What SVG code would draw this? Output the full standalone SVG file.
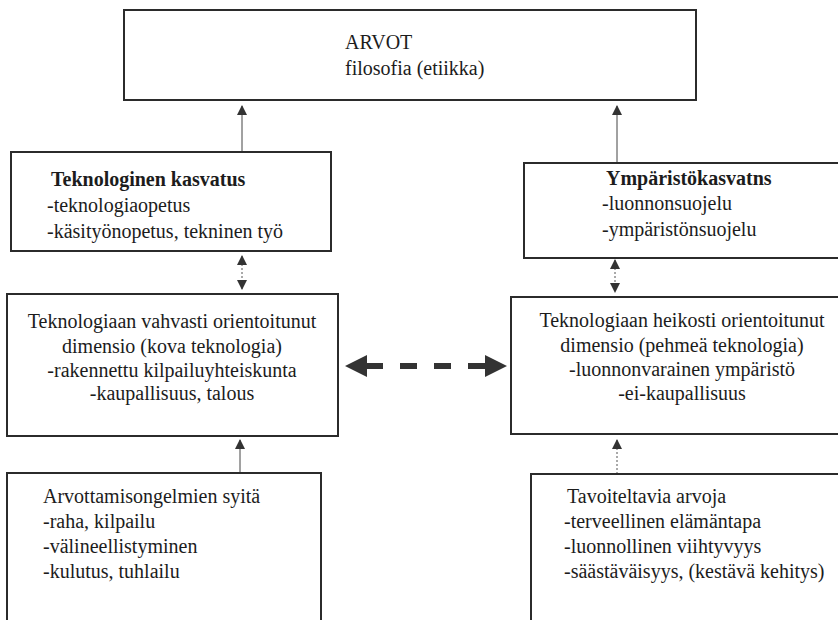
<svg xmlns="http://www.w3.org/2000/svg" width="838" height="620" viewBox="0 0 838 620">
  <style>
    .box { fill: #ffffff; stroke: #2b2b2b; stroke-width: 2; }
    text { font-family: 'Liberation Serif', Tinos, 'Times New Roman', 'DejaVu Serif', serif; font-size: 20px; fill: #1c1c1c; }
    .b { font-weight: bold; }
    .mid { text-anchor: middle; }
    .thin { stroke: #444; stroke-width: 1; fill: none; }
    .dot { stroke: #555; stroke-width: 1; fill: none; stroke-dasharray: 2 2; }
    .big { fill: #333; }
  </style>
  <defs>
    <marker id="head" viewBox="0 0 10 10" refX="9" refY="5" markerWidth="10" markerHeight="10" markerUnits="userSpaceOnUse" orient="auto-start-reverse">
      <path d="M0,0 L10,5 L0,10 Z" fill="#333"/>
    </marker>
  </defs>

  <rect width="838" height="620" fill="#ffffff"/>

  <!-- connectors -->
  <g id="connectors">
    <line class="thin" x1="242" y1="152" x2="242" y2="106" marker-end="url(#head)"/>
    <line class="thin" x1="617" y1="163" x2="617" y2="106" marker-end="url(#head)"/>
    <line class="dot" x1="242" y1="256" x2="242" y2="289" marker-start="url(#head)" marker-end="url(#head)"/>
    <line class="dot" x1="615" y1="260" x2="615" y2="292" marker-start="url(#head)" marker-end="url(#head)"/>
    <line class="thin" x1="240" y1="473" x2="240" y2="440" marker-end="url(#head)"/>
    <line class="dot" x1="617" y1="474" x2="617" y2="440" marker-end="url(#head)"/>
    <!-- dashed double-headed link between the two dimensions -->
    <path class="big" d="M345,366 L367,355 L367,363 L383,363 L383,369 L367,369 L367,377 Z"/>
    <rect class="big" x="400" y="363" width="17" height="6"/>
    <rect class="big" x="434" y="363" width="17" height="6"/>
    <path class="big" d="M507,366 L485,355 L485,363 L468,363 L468,369 L485,369 L485,377 Z"/>
  </g>

  <g id="arvot" font-family="Liberation Serif, serif">
    <rect class="box" x="124" y="10" width="572" height="90"/>
    <text x="345" y="49">ARVOT</text>
    <text x="345" y="75">filosofia (etiikka)</text>
  </g>

  <g id="teknologinen-kasvatus">
    <rect class="box" x="11" y="152" width="320" height="99"/>
    <text class="b" x="51" y="186">Teknologinen kasvatus</text>
    <text x="47" y="212">-teknologiaopetus</text>
    <text x="47" y="238">-käsityönopetus, tekninen työ</text>
  </g>

  <g id="ymparistokasvatus">
    <rect class="box" x="524" y="163" width="330" height="95"/>
    <text class="b" x="606" y="185">Ympäristökasvatns</text>
    <text x="602" y="210">-luonnonsuojelu</text>
    <text x="602" y="236">-ympäristönsuojelu</text>
  </g>

  <g id="kova-teknologia">
    <rect class="box" x="7" y="294" width="331" height="142"/>
    <text class="mid" x="172" y="328">Teknologiaan vahvasti orientoitunut</text>
    <text class="mid" x="172" y="353">dimensio (kova teknologia)</text>
    <text class="mid" x="172" y="377">-rakennettu kilpailuyhteiskunta</text>
    <text class="mid" x="172" y="400">-kaupallisuus, talous</text>
  </g>

  <g id="pehmea-teknologia">
    <rect class="box" x="511" y="297" width="340" height="137"/>
    <text class="mid" x="682" y="327">Teknologiaan heikosti orientoitunut</text>
    <text class="mid" x="682" y="352">dimensio (pehmeä teknologia)</text>
    <text class="mid" x="682" y="376">-luonnonvarainen ympäristö</text>
    <text class="mid" x="682" y="400">-ei-kaupallisuus</text>
  </g>

  <g id="arvottamisongelmat">
    <rect class="box" x="7" y="473" width="314" height="160"/>
    <text x="43" y="503">Arvottamisongelmien syitä</text>
    <text x="43" y="528">-raha, kilpailu</text>
    <text x="43" y="553">-välineellistyminen</text>
    <text x="43" y="578">-kulutus, tuhlailu</text>
  </g>

  <g id="tavoiteltavat-arvot">
    <rect class="box" x="531" y="474" width="320" height="160"/>
    <text x="567" y="503">Tavoiteltavia arvoja</text>
    <text x="564" y="528">-terveellinen elämäntapa</text>
    <text x="564" y="553">-luonnollinen viihtyvyys</text>
    <text x="564" y="578">-säästäväisyys,  (kestävä kehitys)</text>
  </g>
</svg>
